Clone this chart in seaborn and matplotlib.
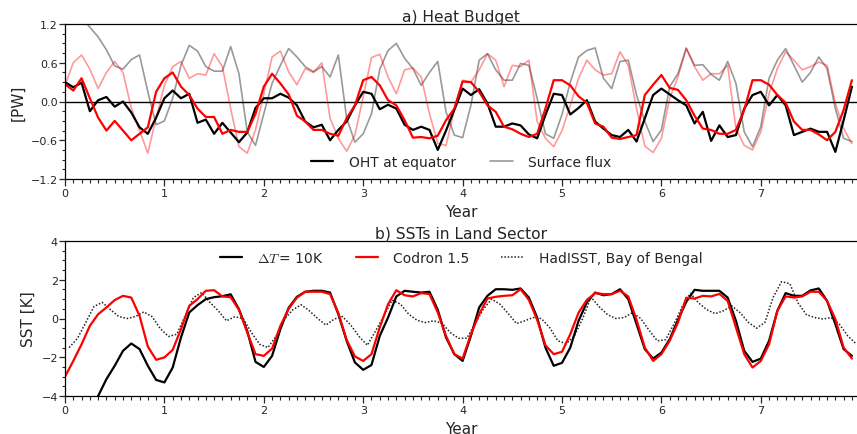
import numpy as np
import pandas as pd
import matplotlib
matplotlib.use("Agg")
import matplotlib.pyplot as plt
from matplotlib.ticker import MultipleLocator
from matplotlib.lines import Line2D
import seaborn as sns

# ---------------------------------------------------------------- data
# monthly values, 8 model years
months = np.arange(96)

# a) heat budget [PW]
oht_10k = [0.30, 0.22, 0.29, -0.15, 0.02, 0.07, -0.08, 0.00, -0.17, -0.40, -0.50, -0.25,
           0.05, 0.17, 0.05, 0.12, -0.33, -0.28, -0.50, -0.33, -0.48, -0.63, -0.48, -0.10,
           0.05, 0.05, 0.12, 0.06, -0.06, -0.31, -0.40, -0.36, -0.60, -0.44, -0.31, -0.06,
           0.15, 0.12, -0.12, -0.05, -0.11, -0.36, -0.44, -0.39, -0.44, -0.75, -0.45, -0.13,
           0.20, 0.10, 0.19, -0.03, -0.39, -0.39, -0.34, -0.37, -0.51, -0.57, -0.21, 0.12,
           0.10, -0.20, -0.10, 0.02, -0.31, -0.42, -0.52, -0.55, -0.44, -0.62, -0.26, 0.10,
           0.20, 0.11, 0.02, -0.06, -0.34, -0.16, -0.61, -0.37, -0.55, -0.52, -0.11, 0.10,
           0.15, -0.06, 0.10, -0.06, -0.52, -0.47, -0.42, -0.47, -0.47, -0.78, -0.29, 0.23]
oht_codron = [0.27, 0.17, 0.36, 0.05, -0.25, -0.45, -0.30, -0.45, -0.60, -0.50, -0.40, 0.15,
              0.36, 0.45, 0.23, 0.10, -0.11, -0.24, -0.24, -0.50, -0.44, -0.47, -0.47, -0.19,
              0.23, 0.43, 0.28, 0.11, -0.22, -0.31, -0.44, -0.44, -0.50, -0.53, -0.26, -0.06,
              0.33, 0.38, 0.25, 0.02, -0.06, -0.29, -0.56, -0.55, -0.57, -0.53, -0.29, -0.11,
              0.31, 0.30, 0.15, -0.06, -0.16, -0.39, -0.43, -0.50, -0.55, -0.50, -0.11, 0.33,
              0.33, 0.25, 0.08, -0.02, -0.34, -0.39, -0.56, -0.58, -0.55, -0.52, 0.10, 0.26,
              0.41, 0.21, 0.18, 0.02, -0.22, -0.42, -0.44, -0.50, -0.50, -0.44, -0.13, 0.33,
              0.33, 0.26, 0.10, -0.02, -0.31, -0.44, -0.44, -0.51, -0.60, -0.47, -0.13, 0.33]
sfc_10k = [1.50, 1.40, 1.30, 1.15, 1.00, 0.80, 0.55, 0.50, 0.65, 0.72, 0.15, -0.36,
           -0.30, 0.05, 0.56, 0.87, 0.78, 0.54, 0.47, 0.47, 0.85, 0.43, -0.47, -0.68,
           -0.19, 0.28, 0.56, 0.82, 0.69, 0.54, 0.46, 0.54, 0.38, 0.72, -0.26, -0.63,
           -0.50, -0.19, 0.50, 0.79, 0.90, 0.67, 0.51, 0.25, 0.45, 0.62, -0.16, -0.52,
           -0.56, -0.06, 0.64, 0.74, 0.49, 0.33, 0.33, 0.59, 0.56, 0.05, -0.50, -0.57,
           -0.20, 0.30, 0.69, 0.79, 0.83, 0.36, 0.20, 0.62, 0.64, 0.10, -0.31, -0.62,
           -0.44, 0.23, 0.43, 0.82, 0.56, 0.57, 0.42, 0.33, 0.62, 0.28, -0.47, -0.70,
           -0.39, 0.36, 0.64, 0.82, 0.56, 0.30, 0.45, 0.69, 0.51, -0.11, -0.57, -0.62]
sfc_codron = [0.25, 0.60, 0.72, 0.50, 0.20, 0.45, 0.62, 0.45, -0.10, -0.45, -0.80, -0.25,
              0.25, 0.54, 0.62, 0.36, 0.43, 0.41, 0.74, 0.54, -0.11, -0.70, -0.80, -0.44,
              0.12, 0.69, 0.78, 0.46, 0.26, 0.51, 0.45, 0.60, -0.26, -0.57, -0.77, -0.52,
              0.07, 0.68, 0.73, 0.38, 0.12, 0.49, 0.52, 0.38, -0.19, -0.65, -0.68, -0.13,
              0.33, 0.30, 0.49, 0.74, 0.64, 0.23, 0.56, 0.54, 0.64, -0.31, -0.57, -0.70,
              -0.45, -0.06, 0.36, 0.64, 0.49, 0.41, 0.43, 0.77, 0.56, -0.11, -0.69, -0.79,
              -0.57, 0.05, 0.38, 0.83, 0.54, 0.33, 0.43, 0.43, 0.56, -0.42, -0.68, -0.75,
              -0.47, 0.12, 0.51, 0.77, 0.64, 0.49, 0.54, 0.61, 0.56, -0.03, -0.42, -0.65]

# b) SST anomalies in the land sector [K]
sst_10k = [-7.00, -6.20, -5.40, -4.70, -4.00, -3.13, -2.44, -1.67, -1.29, -1.58, -2.44, -3.17,
           -3.30, -2.53, -0.98, 0.31, 0.69, 1.00, 1.10, 1.15, 1.25, 0.48, -0.64, -2.24,
           -2.50, -1.93, -0.55, 0.55, 1.12, 1.38, 1.43, 1.43, 1.34, 0.22, -1.15, -2.27,
           -2.65, -2.40, -0.90, 0.05, 1.14, 1.43, 1.38, 1.34, 1.38, 0.45, -0.98, -1.84,
           -2.19, -0.90, 0.57, 1.17, 1.51, 1.51, 1.48, 1.55, 1.08, 0.05, -1.50, -2.44,
           -2.29, -1.50, -0.12, 0.83, 1.34, 1.20, 1.26, 1.51, 1.00, -0.29, -1.58, -2.07,
           -1.76, -1.07, -0.07, 0.86, 1.48, 1.43, 1.43, 1.43, 1.08, -0.12, -1.67, -2.24,
           -2.07, -1.15, 0.40, 1.31, 1.17, 1.17, 1.45, 1.55, 0.91, -0.29, -1.58, -1.93]
sst_codron = [-3.00, -2.19, -1.33, -0.38, 0.22, 0.57, 0.95, 1.17, 1.08, 0.14, -1.45, -2.13,
              -2.01, -1.62, -0.55, 0.65, 1.00, 1.43, 1.46, 1.14, 1.10, 0.45, -0.72, -1.84,
              -1.93, -1.55, -0.38, 0.50, 1.08, 1.38, 1.38, 1.38, 1.26, 0.28, -1.10, -1.96,
              -2.19, -1.84, -0.46, 0.74, 1.46, 1.20, 1.14, 1.31, 1.26, 0.31, -0.90, -1.84,
              -2.07, -0.81, 0.22, 1.03, 1.12, 1.17, 1.20, 1.51, 0.96, -0.07, -1.38, -1.84,
              -1.72, -0.81, 0.30, 0.96, 1.31, 1.26, 1.26, 1.43, 1.14, -0.07, -1.50, -2.19,
              -1.84, -1.15, -0.21, 1.07, 1.03, 1.17, 1.14, 1.27, 0.91, -0.46, -1.84, -2.53,
              -2.19, -1.33, 0.40, 1.14, 1.08, 1.14, 1.38, 1.38, 0.91, -0.03, -1.50, -2.07]
sst_hadisst = [-1.50, -1.03, -0.21, 0.62, 0.83, 0.45, 0.10, 0.00, 0.10, 0.34, 0.10, -0.52,
               -0.93, -0.81, 0.14, 1.08, 1.34, 0.83, 0.40, -0.12, 0.09, 0.00, -0.72, -1.33,
               -1.50, -0.90, -0.03, 0.45, 0.71, 0.40, 0.00, -0.34, -0.03, 0.10, -0.34, -0.93,
               -1.38, -0.64, 0.14, 0.95, 0.74, 0.22, -0.09, -0.21, -0.12, -0.24, -0.72, -1.02,
               -1.02, -0.29, 0.48, 1.00, 0.74, 0.26, -0.26, -0.12, 0.05, 0.00, -0.46, -1.15,
               -1.30, -0.90, 0.00, 1.10, 0.60, 0.20, 0.00, 0.05, 0.30, 0.00, -0.60, -1.15,
               -1.10, -0.30, 0.60, 1.30, 0.80, 0.45, 0.25, 0.40, 0.65, 0.30, -0.20, -0.50,
               -0.20, 1.10, 1.90, 1.80, 0.80, 0.20, 0.05, -0.03, 0.05, -0.30, -0.90, -1.30]

budget = pd.DataFrame({
    "year": months / 12.0,
    "oht_10k": oht_10k, "oht_codron": oht_codron,
    "sfc_10k": sfc_10k, "sfc_codron": sfc_codron,
})
sst = pd.DataFrame({
    "year": months / 12.0,
    "year_mid": (months + 0.5) / 12.0,
    "dT10K": sst_10k, "codron": sst_codron, "hadisst": sst_hadisst,
})

# ---------------------------------------------------------------- style
sns.set_style("ticks")
plt.rcParams["font.family"] = ["DejaVu Sans"]
plt.rcParams["mathtext.fontset"] = "cm"
plt.rcParams["axes.linewidth"] = 0.9

XMAX = 7.97
W, H = 857, 435
fig = plt.figure(figsize=(W / 100, H / 100), dpi=100)
ax1 = fig.add_axes([65 / W, 1 - 180 / H, 99.4 * XMAX / W, 155 / H])
ax2 = fig.add_axes([65 / W, 1 - 397 / H, 99.4 * XMAX / W, 155 / H])


def style_axis(ax, ymin, ymax, ymajor, yminor):
    ax.set_xlim(0, XMAX)
    ax.set_ylim(ymin, ymax)
    ax.xaxis.set_major_locator(MultipleLocator(1))
    ax.xaxis.set_minor_locator(MultipleLocator(1 / 12))
    ax.yaxis.set_major_locator(MultipleLocator(ymajor))
    ax.yaxis.set_minor_locator(MultipleLocator(yminor))
    ax.tick_params(axis="x", which="major", length=5, width=0.9, labelsize=8, pad=1.5,
                   direction="out")
    ax.tick_params(axis="x", which="minor", length=3, width=0.8, direction="out")
    ax.tick_params(axis="y", which="major", length=4, width=0.9, labelsize=8, pad=1,
                   direction="out")
    ax.tick_params(axis="y", which="minor", length=2.5, width=0.8, direction="out")
    ax.spines["right"].set_visible(False)
    for s in ("left", "top", "bottom"):
        ax.spines[s].set_visible(True)
        ax.spines[s].set_color("black")
    ax.set_xlabel("Year", fontsize=11)


# ---------------------------------------------------------------- a) heat budget
sns.lineplot(data=budget, x="year", y="sfc_10k", ax=ax1, color="black", alpha=0.4,
             lw=1.2, estimator=None)
sns.lineplot(data=budget, x="year", y="sfc_codron", ax=ax1, color="red", alpha=0.4,
             lw=1.2, estimator=None)
ax1.axhline(0, color="black", lw=1.0, zorder=1.8)
sns.lineplot(data=budget, x="year", y="oht_10k", ax=ax1, color="black", lw=1.6,
             estimator=None)
sns.lineplot(data=budget, x="year", y="oht_codron", ax=ax1, color="red", lw=1.6,
             estimator=None)
style_axis(ax1, -1.2, 1.2, 0.6, 0.15)
ax1.set_yticks([-1.2, -0.6, 0.0, 0.6, 1.2])
ax1.set_yticklabels(["\u22121.2", "\u22120.6", "0.0", "0.6", "1.2"])
ax1.set_ylabel("[PW]", fontsize=11)
ax1.set_title("a) Heat Budget", fontsize=11.2, pad=2.5)
h1 = [Line2D([], [], color="black", lw=1.6),
      Line2D([], [], color="black", alpha=0.4, lw=1.2)]
ax1.legend(h1, ["OHT at equator", "Surface flux"], loc="lower center", ncol=2,
           frameon=False, fontsize=10, handlelength=1.6, handletextpad=1.1,
           columnspacing=2.5, borderaxespad=0.3)

# ---------------------------------------------------------------- b) SSTs
sns.lineplot(data=sst, x="year_mid", y="hadisst", ax=ax2, color="#222222", lw=1.1,
             linestyle=(0, (1, 1.2)), estimator=None)
sns.lineplot(data=sst, x="year", y="dT10K", ax=ax2, color="black", lw=1.6,
             estimator=None)
sns.lineplot(data=sst, x="year", y="codron", ax=ax2, color="red", lw=1.6,
             estimator=None)
style_axis(ax2, -4, 4, 2, 0.5)
ax2.set_yticks([-4, -2, 0, 2, 4])
ax2.set_yticklabels(["\u22124", "\u22122", "0", "2", "4"])
ax2.set_ylabel("SST [K]", fontsize=11)
ax2.set_title("b) SSTs in Land Sector", fontsize=11.2, pad=2.5)
h2 = [Line2D([], [], color="black", lw=1.6),
      Line2D([], [], color="red", lw=1.6),
      Line2D([], [], color="#222222", lw=1.1, linestyle=(0, (1, 1.2)))]
ax2.legend(h2, [r"$\Delta T\,$= 10K", "Codron 1.5", "HadISST, Bay of Bengal"],
           loc="upper center", ncol=3, frameon=False, fontsize=10, handlelength=1.6,
           handletextpad=1.1, columnspacing=2.3, borderaxespad=0.3)

fig.savefig("out.png", dpi=100)
